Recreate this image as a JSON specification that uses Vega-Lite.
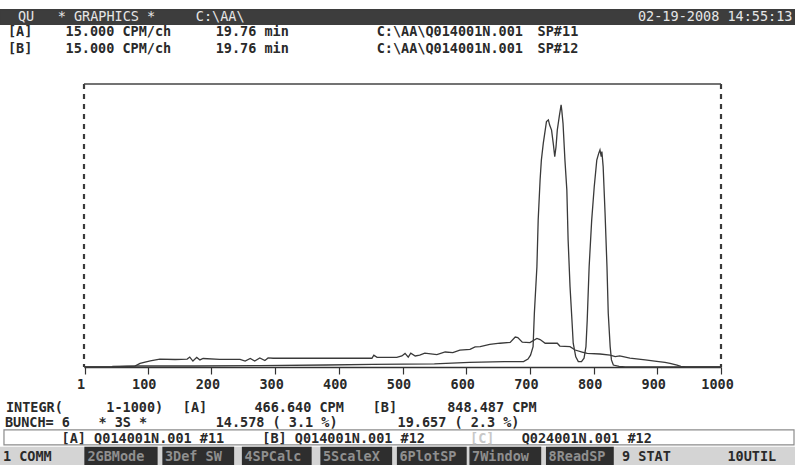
{
  "$schema": "https://vega.github.io/schema/vega-lite/v6.json",
  "width": 637,
  "height": 283,
  "autosize": {"type": "none"},
  "padding": {"left": 84, "top": 84, "right": 74, "bottom": 98},
  "background": "#ffffff",
  "config": {"view": {"stroke": null}},
  "datasets": {
    "spectra": [
      {"series": "A", "channel": 1, "counts": 0},
      {"series": "A", "channel": 44, "counts": 0},
      {"series": "A", "channel": 80, "counts": 0.3},
      {"series": "A", "channel": 88, "counts": 1.3},
      {"series": "A", "channel": 104, "counts": 2.2},
      {"series": "A", "channel": 119, "counts": 2.8},
      {"series": "A", "channel": 143, "counts": 2.65},
      {"series": "A", "channel": 162, "counts": 2.8},
      {"series": "A", "channel": 166, "counts": 3.5},
      {"series": "A", "channel": 171, "counts": 2.1},
      {"series": "A", "channel": 177, "counts": 3.4},
      {"series": "A", "channel": 182, "counts": 2.5},
      {"series": "A", "channel": 187, "counts": 3.0},
      {"series": "A", "channel": 213, "counts": 2.7},
      {"series": "A", "channel": 245, "counts": 2.7},
      {"series": "A", "channel": 253, "counts": 2.1},
      {"series": "A", "channel": 261, "counts": 3.0},
      {"series": "A", "channel": 268, "counts": 2.1},
      {"series": "A", "channel": 276, "counts": 3.2},
      {"series": "A", "channel": 284, "counts": 2.3},
      {"series": "A", "channel": 289, "counts": 3.2},
      {"series": "A", "channel": 297, "counts": 3.1},
      {"series": "A", "channel": 339, "counts": 3.1},
      {"series": "A", "channel": 402, "counts": 3.1},
      {"series": "A", "channel": 452, "counts": 3.1},
      {"series": "A", "channel": 455, "counts": 4.2},
      {"series": "A", "channel": 460, "counts": 3.4},
      {"series": "A", "channel": 491, "counts": 3.4},
      {"series": "A", "channel": 499, "counts": 3.9},
      {"series": "A", "channel": 504, "counts": 4.8},
      {"series": "A", "channel": 509, "counts": 3.5},
      {"series": "A", "channel": 513, "counts": 4.9},
      {"series": "A", "channel": 520, "counts": 3.9},
      {"series": "A", "channel": 527, "counts": 4.2},
      {"series": "A", "channel": 535, "counts": 4.9},
      {"series": "A", "channel": 554, "counts": 4.4},
      {"series": "A", "channel": 567, "counts": 5.3},
      {"series": "A", "channel": 579, "counts": 5.1},
      {"series": "A", "channel": 590, "counts": 6.0},
      {"series": "A", "channel": 606, "counts": 6.2},
      {"series": "A", "channel": 614, "counts": 7.1},
      {"series": "A", "channel": 622, "counts": 7.2},
      {"series": "A", "channel": 637, "counts": 8.0},
      {"series": "A", "channel": 653, "counts": 8.4},
      {"series": "A", "channel": 669, "counts": 8.7},
      {"series": "A", "channel": 677, "counts": 10.6},
      {"series": "A", "channel": 681, "counts": 10.4},
      {"series": "A", "channel": 688, "counts": 8.8},
      {"series": "A", "channel": 700, "counts": 8.6},
      {"series": "A", "channel": 711, "counts": 10.1},
      {"series": "A", "channel": 716, "counts": 9.7},
      {"series": "A", "channel": 724, "counts": 8.4},
      {"series": "A", "channel": 743, "counts": 8.4},
      {"series": "A", "channel": 747, "counts": 7.4},
      {"series": "A", "channel": 763, "counts": 7.2},
      {"series": "A", "channel": 771, "counts": 6.0},
      {"series": "A", "channel": 782, "counts": 5.3},
      {"series": "A", "channel": 790, "counts": 4.8},
      {"series": "A", "channel": 810, "counts": 4.6},
      {"series": "A", "channel": 826, "counts": 4.2},
      {"series": "A", "channel": 834, "counts": 3.7},
      {"series": "A", "channel": 841, "counts": 3.9},
      {"series": "A", "channel": 857, "counts": 3.1},
      {"series": "A", "channel": 881, "counts": 2.5},
      {"series": "A", "channel": 896, "counts": 2.1},
      {"series": "A", "channel": 912, "counts": 1.6},
      {"series": "A", "channel": 920, "counts": 1.3},
      {"series": "A", "channel": 931, "counts": 0.7},
      {"series": "A", "channel": 937, "counts": 0.2},
      {"series": "A", "channel": 945, "counts": 0},
      {"series": "A", "channel": 1000, "counts": 0},
      {"series": "B", "channel": 1, "counts": 0},
      {"series": "B", "channel": 44, "counts": 0},
      {"series": "B", "channel": 45, "counts": 0.2},
      {"series": "B", "channel": 88, "counts": 0.35},
      {"series": "B", "channel": 173, "counts": 0.35},
      {"series": "B", "channel": 276, "counts": 0.5},
      {"series": "B", "channel": 380, "counts": 0.7},
      {"series": "B", "channel": 453, "counts": 0.9},
      {"series": "B", "channel": 550, "counts": 1.1},
      {"series": "B", "channel": 605, "counts": 1.6},
      {"series": "B", "channel": 660, "counts": 1.9},
      {"series": "B", "channel": 690, "counts": 1.9},
      {"series": "B", "channel": 697, "counts": 2.8},
      {"series": "B", "channel": 701, "counts": 4.2},
      {"series": "B", "channel": 705, "counts": 7.2},
      {"series": "B", "channel": 707, "counts": 19},
      {"series": "B", "channel": 711, "counts": 35.4},
      {"series": "B", "channel": 713, "counts": 51.9},
      {"series": "B", "channel": 716, "counts": 66.1},
      {"series": "B", "channel": 718, "counts": 73.1},
      {"series": "B", "channel": 721, "counts": 79},
      {"series": "B", "channel": 726, "counts": 86.7},
      {"series": "B", "channel": 729, "counts": 87.3},
      {"series": "B", "channel": 731, "counts": 85.5},
      {"series": "B", "channel": 734, "counts": 83.7},
      {"series": "B", "channel": 737, "counts": 78.4},
      {"series": "B", "channel": 739, "counts": 74.3},
      {"series": "B", "channel": 741, "counts": 77.8},
      {"series": "B", "channel": 743, "counts": 83.7},
      {"series": "B", "channel": 746, "counts": 88.4},
      {"series": "B", "channel": 749, "counts": 92.6},
      {"series": "B", "channel": 750, "counts": 90.8},
      {"series": "B", "channel": 752, "counts": 86.1},
      {"series": "B", "channel": 755, "counts": 73.1},
      {"series": "B", "channel": 758, "counts": 62.5},
      {"series": "B", "channel": 760, "counts": 44.9},
      {"series": "B", "channel": 763, "counts": 28.4},
      {"series": "B", "channel": 766, "counts": 16.6},
      {"series": "B", "channel": 768, "counts": 8.4},
      {"series": "B", "channel": 772, "counts": 3.6},
      {"series": "B", "channel": 776, "counts": 1.9},
      {"series": "B", "channel": 781, "counts": 1.9},
      {"series": "B", "channel": 785, "counts": 3.1},
      {"series": "B", "channel": 788, "counts": 7.2},
      {"series": "B", "channel": 790, "counts": 16.6},
      {"series": "B", "channel": 793, "counts": 35.4},
      {"series": "B", "channel": 797, "counts": 51.9},
      {"series": "B", "channel": 801, "counts": 63.7},
      {"series": "B", "channel": 805, "counts": 73.1},
      {"series": "B", "channel": 808, "counts": 75.5},
      {"series": "B", "channel": 810, "counts": 76.7},
      {"series": "B", "channel": 812, "counts": 74.3},
      {"series": "B", "channel": 813, "counts": 76.1},
      {"series": "B", "channel": 815, "counts": 70.8},
      {"series": "B", "channel": 818, "counts": 54.3},
      {"series": "B", "channel": 821, "counts": 35.4},
      {"series": "B", "channel": 823, "counts": 19},
      {"series": "B", "channel": 826, "counts": 7.2},
      {"series": "B", "channel": 828, "counts": 2.5},
      {"series": "B", "channel": 831, "counts": 0.7},
      {"series": "B", "channel": 840, "counts": 0.2},
      {"series": "B", "channel": 850, "counts": 0},
      {"series": "B", "channel": 1000, "counts": 0}
    ],
    "panels": [
      {"kind": "header", "c1": 0, "c2": 80, "r1": 0.5, "r2": 1.45},
      {"kind": "box", "c1": 0.4, "c2": 79.9, "r1": 27.44, "r2": 28.4},
      {"kind": "keybar", "c1": 0, "c2": 80, "r1": 28.55, "r2": 30.2},
      {"kind": "key", "c1": 8.55, "c2": 15.8, "r1": 28.55, "r2": 30.2},
      {"kind": "key", "c1": 16.4, "c2": 23.5, "r1": 28.55, "r2": 30.2},
      {"kind": "key", "c1": 24.4, "c2": 31.3, "r1": 28.55, "r2": 30.2},
      {"kind": "key", "c1": 32.3, "c2": 39.4, "r1": 28.55, "r2": 30.2},
      {"kind": "key", "c1": 40.0, "c2": 46.9, "r1": 28.55, "r2": 30.2},
      {"kind": "key", "c1": 47.3, "c2": 54.4, "r1": 28.55, "r2": 30.2},
      {"kind": "key", "c1": 55.0, "c2": 61.7, "r1": 28.55, "r2": 30.2}
    ],
    "screen": [
      {"row": 0.95, "col": 1.8, "text": "QU", "tone": "hdr"},
      {"row": 0.95, "col": 5.8, "text": "* GRAPHICS *", "tone": "hdr"},
      {"row": 0.95, "col": 19.7, "text": "C:\\AA\\", "tone": "hdr"},
      {"row": 0.95, "col": 64.2, "text": "02-19-2008 14:55:13", "tone": "hdr"},
      {"row": 1.95, "col": 0.8, "text": "[A]", "tone": "ink"},
      {"row": 1.95, "col": 6.6, "text": "15.000 CPM/ch", "tone": "ink"},
      {"row": 1.95, "col": 21.7, "text": "19.76 min", "tone": "ink"},
      {"row": 1.95, "col": 37.9, "text": "C:\\AA\\Q014001N.001", "tone": "ink"},
      {"row": 1.95, "col": 54.1, "text": "SP#11", "tone": "ink"},
      {"row": 3.0, "col": 0.8, "text": "[B]", "tone": "ink"},
      {"row": 3.0, "col": 6.6, "text": "15.000 CPM/ch", "tone": "ink"},
      {"row": 3.0, "col": 21.7, "text": "19.76 min", "tone": "ink"},
      {"row": 3.0, "col": 37.9, "text": "C:\\AA\\Q014001N.001", "tone": "ink"},
      {"row": 3.0, "col": 54.1, "text": "SP#12", "tone": "ink"},
      {"row": 26, "col": 0.6, "text": "INTEGR(", "tone": "ink"},
      {"row": 26, "col": 10.7, "text": "1-1000)", "tone": "ink"},
      {"row": 26, "col": 18.4, "text": "[A]", "tone": "ink"},
      {"row": 26, "col": 25.6, "text": "466.640 CPM", "tone": "ink"},
      {"row": 26, "col": 37.5, "text": "[B]", "tone": "ink"},
      {"row": 26, "col": 45.0, "text": "848.487 CPM", "tone": "ink"},
      {"row": 27, "col": 0.5, "text": "BUNCH= 6", "tone": "ink"},
      {"row": 27, "col": 9.9, "text": "* 3S *", "tone": "ink"},
      {"row": 27, "col": 21.7, "text": "14.578 (  3.1 %)", "tone": "ink"},
      {"row": 27, "col": 40.0, "text": "19.657 (  2.3 %)", "tone": "ink"},
      {"row": 28, "col": 6.2, "text": "[A] Q014001N.001 #11", "tone": "ink"},
      {"row": 28, "col": 26.4, "text": "[B] Q014001N.001 #12", "tone": "ink"},
      {"row": 28, "col": 47.3, "text": "[C]", "tone": "faint"},
      {"row": 28, "col": 52.5, "text": "Q024001N.001 #12", "tone": "ink"},
      {"row": 29.2, "col": 0.3, "text": "1 COMM", "tone": "ink"},
      {"row": 29.2, "col": 8.8, "text": "2GBMode", "tone": "keyink"},
      {"row": 29.2, "col": 16.6, "text": "3Def SW", "tone": "keyink"},
      {"row": 29.2, "col": 24.6, "text": "4SPCalc", "tone": "keyink"},
      {"row": 29.2, "col": 32.5, "text": "5ScaleX", "tone": "keyink"},
      {"row": 29.2, "col": 40.2, "text": "6PlotSP", "tone": "keyink"},
      {"row": 29.2, "col": 47.5, "text": "7Window", "tone": "keyink"},
      {"row": 29.2, "col": 55.2, "text": "8ReadSP", "tone": "keyink"},
      {"row": 29.2, "col": 62.6, "text": "9 STAT", "tone": "ink"},
      {"row": 29.2, "col": 73.2, "text": "10UTIL", "tone": "ink"}
    ]
  },
  "layer": [
    {
      "layer": [
        {
          "data": {"name": "spectra"},
          "mark": {"type": "line", "color": "#3a3a3a", "strokeWidth": 1.3},
          "encoding": {
            "x": {
              "field": "channel", "type": "quantitative",
              "scale": {"domain": [0, 1000], "nice": false, "zero": false},
              "axis": {
                "values": [1, 100, 200, 300, 400, 500, 600, 700, 800, 900, 1000],
                "format": "d",
                "title": null, "grid": false,
                "domainColor": "#333333", "domainWidth": 1.6,
                "tickColor": "#333333", "tickSize": 7, "tickWidth": 1.2,
                "labelFont": "DejaVu Sans Mono", "labelFontWeight": "bold", "labelFontSize": 13.5,
                "labelColor": "#2a2a2a", "labelPadding": 3, "labelOffset": -4,
                "labelFlush": false, "labelOverlap": false
              }
            },
            "y": {
              "field": "counts", "type": "quantitative",
              "scale": {"domain": [0, 100], "nice": false, "zero": true},
              "axis": null
            },
            "detail": {"field": "series", "type": "nominal"}
          }
        },
        {
          "data": {"values": [{}]},
          "mark": {"type": "rule", "color": "#3a3a3a", "strokeWidth": 2.2, "strokeDash": [5, 5]},
          "encoding": {"x": {"datum": 0}}
        },
        {
          "data": {"values": [{}]},
          "mark": {"type": "rule", "color": "#3a3a3a", "strokeWidth": 2.2, "strokeDash": [5, 5]},
          "encoding": {"x": {"datum": 1000}}
        },
        {
          "data": {"values": [{}]},
          "mark": {"type": "rule", "color": "#444444", "strokeWidth": 1.6},
          "encoding": {"y": {"datum": 100}}
        }
      ]
    },
    {
      "data": {"name": "panels"},
      "mark": {"type": "rect", "strokeWidth": 1.2},
      "encoding": {
        "x": {"field": "c1", "type": "quantitative", "scale": {"domain": [0, 80], "range": [-84, 711], "nice": false, "zero": false}, "axis": null},
        "x2": {"field": "c2"},
        "y": {"field": "r1", "type": "quantitative", "scale": {"domain": [0, 30], "range": [-82.1, 385.9], "nice": false, "zero": false}, "axis": null},
        "y2": {"field": "r2"},
        "fill": {"field": "kind", "type": "nominal", "scale": {"domain": ["header", "box", "keybar", "key"], "range": ["#3d3d3d", "#ffffff", "#d4d4d4", "#2e2e2e"]}, "legend": null},
        "stroke": {"field": "kind", "type": "nominal", "scale": {"domain": ["header", "box", "keybar", "key"], "range": ["#3d3d3d", "#8c8c8c", "#d4d4d4", "#2e2e2e"]}, "legend": null}
      }
    },
    {
      "data": {"name": "screen"},
      "transform": [{"filter": "datum.tone === 'hdr'"}],
      "mark": {"type": "text", "align": "left", "baseline": "middle", "font": "DejaVu Sans Mono", "fontSize": 13.5, "fontWeight": "normal"},
      "encoding": {
        "x": {"field": "col", "type": "quantitative", "scale": {"domain": [0, 80], "range": [-84, 711], "nice": false, "zero": false}, "axis": null},
        "y": {"field": "row", "type": "quantitative", "scale": {"domain": [0, 30], "range": [-82.1, 385.9], "nice": false, "zero": false}, "axis": null},
        "text": {"field": "text"},
        "color": {"value": "#e6e6e6"}
      }
    },
    {
      "data": {"name": "screen"},
      "transform": [{"filter": "datum.tone !== 'hdr'"}],
      "mark": {"type": "text", "align": "left", "baseline": "middle", "font": "DejaVu Sans Mono", "fontSize": 13.5, "fontWeight": "bold"},
      "encoding": {
        "x": {"field": "col", "type": "quantitative", "scale": {"domain": [0, 80], "range": [-84, 711], "nice": false, "zero": false}, "axis": null},
        "y": {"field": "row", "type": "quantitative", "scale": {"domain": [0, 30], "range": [-82.1, 385.9], "nice": false, "zero": false}, "axis": null},
        "text": {"field": "text"},
        "color": {"field": "tone", "type": "nominal", "scale": {"domain": ["ink", "faint", "keyink"], "range": ["#2a2a2a", "#c8c8c8", "#8f8f8f"]}, "legend": null}
      }
    }
  ],
  "resolve": {"scale": {"x": "independent", "y": "independent", "color": "independent", "fill": "independent", "stroke": "independent"}}
}
